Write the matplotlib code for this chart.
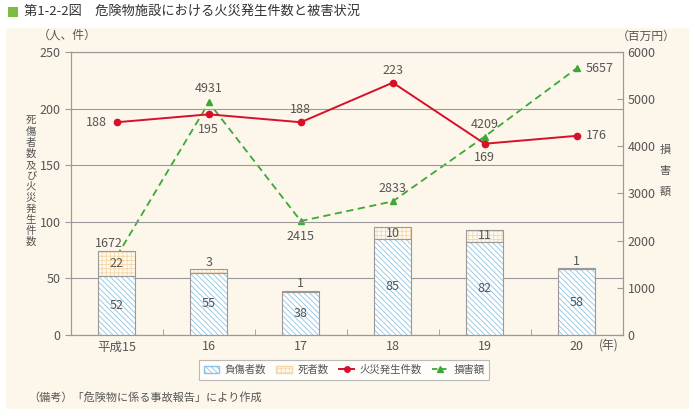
import matplotlib.pyplot as plt
from matplotlib.patches import Rectangle, Patch
from matplotlib.lines import Line2D
import matplotlib as mpl

plt.rcParams['font.family'] = ['Noto Sans CJK JP', 'DejaVu Sans']
mpl.rcParams['hatch.linewidth'] = 0.6

# data
years = ["平成15", "16", "17", "18", "19", "20"]
injured = [52, 55, 38, 85, 82, 58]
deaths = [22, 3, 1, 10, 11, 1]
fires = [188, 195, 188, 223, 169, 176]
damage = [1672, 4931, 2415, 2833, 4209, 5657]

fire_off = [(-10, 0, 'right', 'center'), (0, -9, 'center', 'top'), (0, 6, 'center', 'bottom'),
            (0, 6, 'center', 'bottom'), (0, -7, 'center', 'top'), (9, 0, 'left', 'center')]
dmg_off = [(-8, 6, 'center', 'bottom'), (0, 7, 'center', 'bottom'), (0, -9, 'center', 'top'),
           (0, 6, 'center', 'bottom'), (0, 6, 'center', 'bottom'), (9, 0, 'left', 'center')]

txt = '#555555'
grid = '#999999'
blue_h = '#8cc3e3'
org_h = '#f5d6a8'

W, H = 695, 417
fig = plt.figure(figsize=(6.95, 4.17), dpi=100)
fig.patches.append(Rectangle((0.008, 0.018), 0.984, 0.915, transform=fig.transFigure,
                             facecolor='#fdf6ea', edgecolor='none', zorder=-10))
ax = fig.add_axes([0.102, 0.197, 0.794, 0.678])
ax2 = ax.twinx()

x = range(len(years))
w = 0.4
ax.bar(x, injured, w, color='white', edgecolor=blue_h, hatch='\\\\\\\\\\\\', linewidth=0, zorder=2)
ax.bar(x, injured, w, color='none', edgecolor='#999999', linewidth=0.8, zorder=3)
ax.bar(x, deaths, w, bottom=injured, color='#fffaf0', edgecolor=org_h, hatch='++++', linewidth=0, zorder=2)
ax.bar(x, deaths, w, bottom=injured, color='none', edgecolor='#999999', linewidth=0.8, zorder=3)

for i in x:
    ax.text(i, injured[i] / 2, str(injured[i]), ha='center', va='center', color=txt, fontsize=9, zorder=5)
    if deaths[i] >= 5:
        ax.text(i, injured[i] + deaths[i] / 2, str(deaths[i]), ha='center', va='center', color=txt, fontsize=9, zorder=5)
    else:
        ax.text(i, injured[i] + deaths[i] + 0.3, str(deaths[i]), ha='center', va='bottom', color=txt, fontsize=9, zorder=5)

ax.plot(x, fires, color='#d7102a', marker='o', markersize=4.5, linewidth=1.4, zorder=6)
for i in x:
    dx, dy, ha, va = fire_off[i]
    ax.annotate(str(fires[i]), (i, fires[i]), xytext=(dx, dy), textcoords='offset pixels',
                ha=ha, va=va, color=txt, fontsize=9)

ax2.plot(x, damage, color='#3aa935', marker='^', markersize=5, linewidth=1.3, linestyle=(0, (4, 2.5)), zorder=6)
for i in x:
    dx, dy, ha, va = dmg_off[i]
    ax2.annotate(str(damage[i]), (i, damage[i]), xytext=(dx, dy), textcoords='offset pixels',
                 ha=ha, va=va, color=txt, fontsize=9)

ax.set_xlim(-0.5, 5.5)
ax.set_ylim(0, 250)
ax2.set_ylim(0, 6000)
ax.set_yticks(range(0, 251, 50))
ax2.set_yticks(range(0, 6001, 1000))
ax.yaxis.grid(True, color=grid, linewidth=0.8)
ax.set_axisbelow(True)
ax.set_xticks(list(x))
ax.set_xticklabels(years)
ax.set_xticks([i + 0.5 for i in range(5)], minor=True)
ax.tick_params(axis='x', which='major', length=0, colors=txt, labelsize=9, pad=4)
ax.tick_params(axis='x', which='minor', length=4, direction='in', color=grid)
ax.tick_params(axis='y', length=4, direction='out', colors=txt, labelsize=9, color=grid)
ax2.tick_params(axis='y', length=4, direction='in', colors=txt, labelsize=9, color=grid)
for a in (ax, ax2):
    for s in a.spines.values():
        s.set_color(grid)
        s.set_linewidth(0.8)
ax.set_zorder(ax2.get_zorder() + 1)
ax.patch.set_visible(False)
ax2.patch.set_facecolor('white')

# texts
fig.patches.append(Rectangle((0.012, 0.96), 0.014, 0.024, transform=fig.transFigure,
                             facecolor='#7dbb42', edgecolor='none'))
fig.text(0.034, 0.972, "第1-2-2図　危険物施設における火災発生件数と被害状況", fontsize=9.5, va='center', color='#333333')
fig.text(0.055, 0.915, "（人、件）", fontsize=8.5, va='center', color=txt)
fig.text(0.888, 0.912, "（百万円）", fontsize=8.5, va='center', color=txt)
fig.text(0.862, 0.172, "(年)", fontsize=8.5, va='center', color=txt)

# vertical axis titles, one glyph each
for k, ch in enumerate("死傷者数及び火災発生件数"):
    fig.text(31 / W, 1 - (121 + k * 11) / H, ch, fontsize=7.5, va='center', ha='center', color=txt)
for k, ch in enumerate("損害額"):
    fig.text(665 / W, 1 - (150 + k * 21) / H, ch, fontsize=8, va='center', ha='center', color=txt)

fig.text(0.04, 0.048, "（備考）「危険物に係る事故報告」により作成", fontsize=8, va='center', color=txt)

# legend
h = [Patch(facecolor='white', edgecolor=blue_h, hatch='\\\\\\\\\\\\'),
     Patch(facecolor='#fffaf0', edgecolor=org_h, hatch='++++'),
     Line2D([], [], color='#d7102a', marker='o', markersize=4, linewidth=1.4),
     Line2D([], [], color='#3aa935', marker='^', markersize=4.5, linewidth=1.3, linestyle=(0, (3, 2)))]
leg = fig.legend(h, ["負傷者数", "死者数", "火災発生件数", "損害額"], ncol=4, loc='center',
                 bbox_to_anchor=(0.495, 0.113), frameon=True, fancybox=False, fontsize=7.5,
                 handlelength=1.5, handleheight=0.6, columnspacing=1.0, handletextpad=0.5,
                 labelcolor=txt, borderpad=0.45)
leg.get_frame().set_edgecolor('#aaaaaa')
leg.get_frame().set_linewidth(0.8)

fig.savefig("out.png", dpi=100)
